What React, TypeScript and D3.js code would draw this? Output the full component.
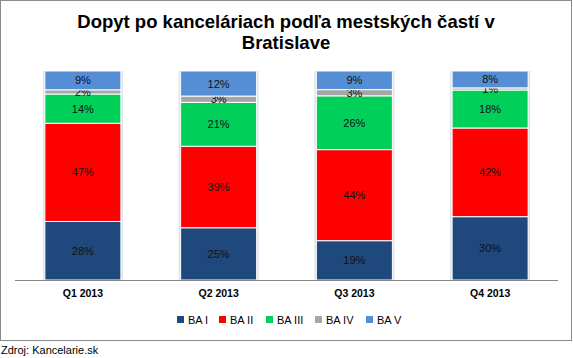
import React, { useRef, useEffect } from "react";
import * as d3 from "d3";

const categories = ["Q1 2013", "Q2 2013", "Q3 2013", "Q4 2013"];
const seriesNames = ["BA I", "BA II", "BA III", "BA IV", "BA V"];
const baI = [28, 25, 19, 30];
const baII = [47, 39, 44, 42];
const baIII = [14, 21, 26, 18];
const baIV = [2, 3, 3, 1];
const baV = [9, 12, 9, 8];
const colors = ["#1F497D", "#FF0000", "#00D05A", "#A6A6A6", "#558ED5"];
const titleLines = ["Dopyt po kanceláriach podľa mestských častí v", "Bratislave"];
const source = "Zdroj: Kancelarie.sk";

export default function App() {
  const ref = useRef<SVGSVGElement>(null);
  useEffect(() => {
    const svg = d3.select(ref.current);
    svg.selectAll("*").remove();
    const font = "Liberation Sans, Arial, sans-serif";
    const series = [baI, baII, baIII, baIV, baV];
    const rows = categories.map((c, i) => {
      const r: any = { cat: c };
      seriesNames.forEach((s, j) => (r[s] = series[j][i]));
      return r;
    });
    const stacked = d3.stack().keys(seriesNames).offset(d3.stackOffsetExpand)(rows);

    svg.append("rect").attr("x", 0.5).attr("y", 0.5).attr("width", 571).attr("height", 340)
      .attr("fill", "#fff").attr("stroke", "#8c8c8c").attr("stroke-width", 1);

    const x = d3.scaleBand().domain(categories).range([15, 558]).paddingInner(0.44).paddingOuter(0.22);
    const y = d3.scaleLinear().domain([0, 1]).range([280, 71]);

    svg.selectAll("text.title").data(titleLines).enter().append("text")
      .attr("x", 286).attr("y", (d, i) => 28 + i * 21).attr("text-anchor", "middle")
      .attr("font-family", font).attr("font-weight", "bold").attr("font-size", 18.5)
      .attr("fill", "#000").text(d => d);

    const g = svg.append("g");
    categories.forEach(cat => {
      g.append("rect").attr("x", x(cat)! - 2).attr("width", x.bandwidth() + 4)
        .attr("y", y(1)).attr("height", y(0) - y(1))
        .attr("fill", "#dce5ef");
    });
    stacked.forEach((layer, j) => {
      layer.forEach((seg, i) => {
        const cat = categories[i];
        g.append("rect").attr("x", x(cat)!).attr("width", x.bandwidth())
          .attr("y", y(seg[1])).attr("height", y(seg[0]) - y(seg[1]))
          .attr("fill", colors[j]).attr("stroke", "#fff").attr("stroke-width", 1);
        g.append("text").attr("x", x(cat)! + x.bandwidth() / 2)
          .attr("y", (y(seg[0]) + y(seg[1])) / 2 + 4)
          .attr("text-anchor", "middle").attr("font-family", font).attr("font-size", 11)
          .attr("fill", "#111").text(series[j][i] + "%");
      });
    });

    svg.append("line").attr("x1", 15).attr("x2", 558).attr("y1", 280.5).attr("y2", 280.5)
      .attr("stroke", "#868686").attr("stroke-width", 1);

    svg.selectAll("text.cat").data(categories).enter().append("text")
      .attr("x", d => x(d)! + x.bandwidth() / 2).attr("y", 297).attr("text-anchor", "middle")
      .attr("font-family", font).attr("font-weight", "bold").attr("font-size", 10.5)
      .attr("fill", "#000").text(d => d);

    const legendX = [177, 219, 266, 315, 366];
    seriesNames.forEach((s, j) => {
      svg.append("rect").attr("x", legendX[j]).attr("y", 316).attr("width", 7).attr("height", 7)
        .attr("fill", colors[j]);
      svg.append("text").attr("x", legendX[j] + 11).attr("y", 324).attr("font-family", font)
        .attr("font-size", 11).attr("fill", "#000").text(s);
    });

    svg.append("text").attr("x", 1).attr("y", 354).attr("font-family", font).attr("font-size", 11)
      .attr("fill", "#000").text(source);
  }, []);
  return (
    <svg ref={ref} width={573} height={358}
      style={{ position: "absolute", left: 0, top: 0, background: "#fff" }} />
  );
}
